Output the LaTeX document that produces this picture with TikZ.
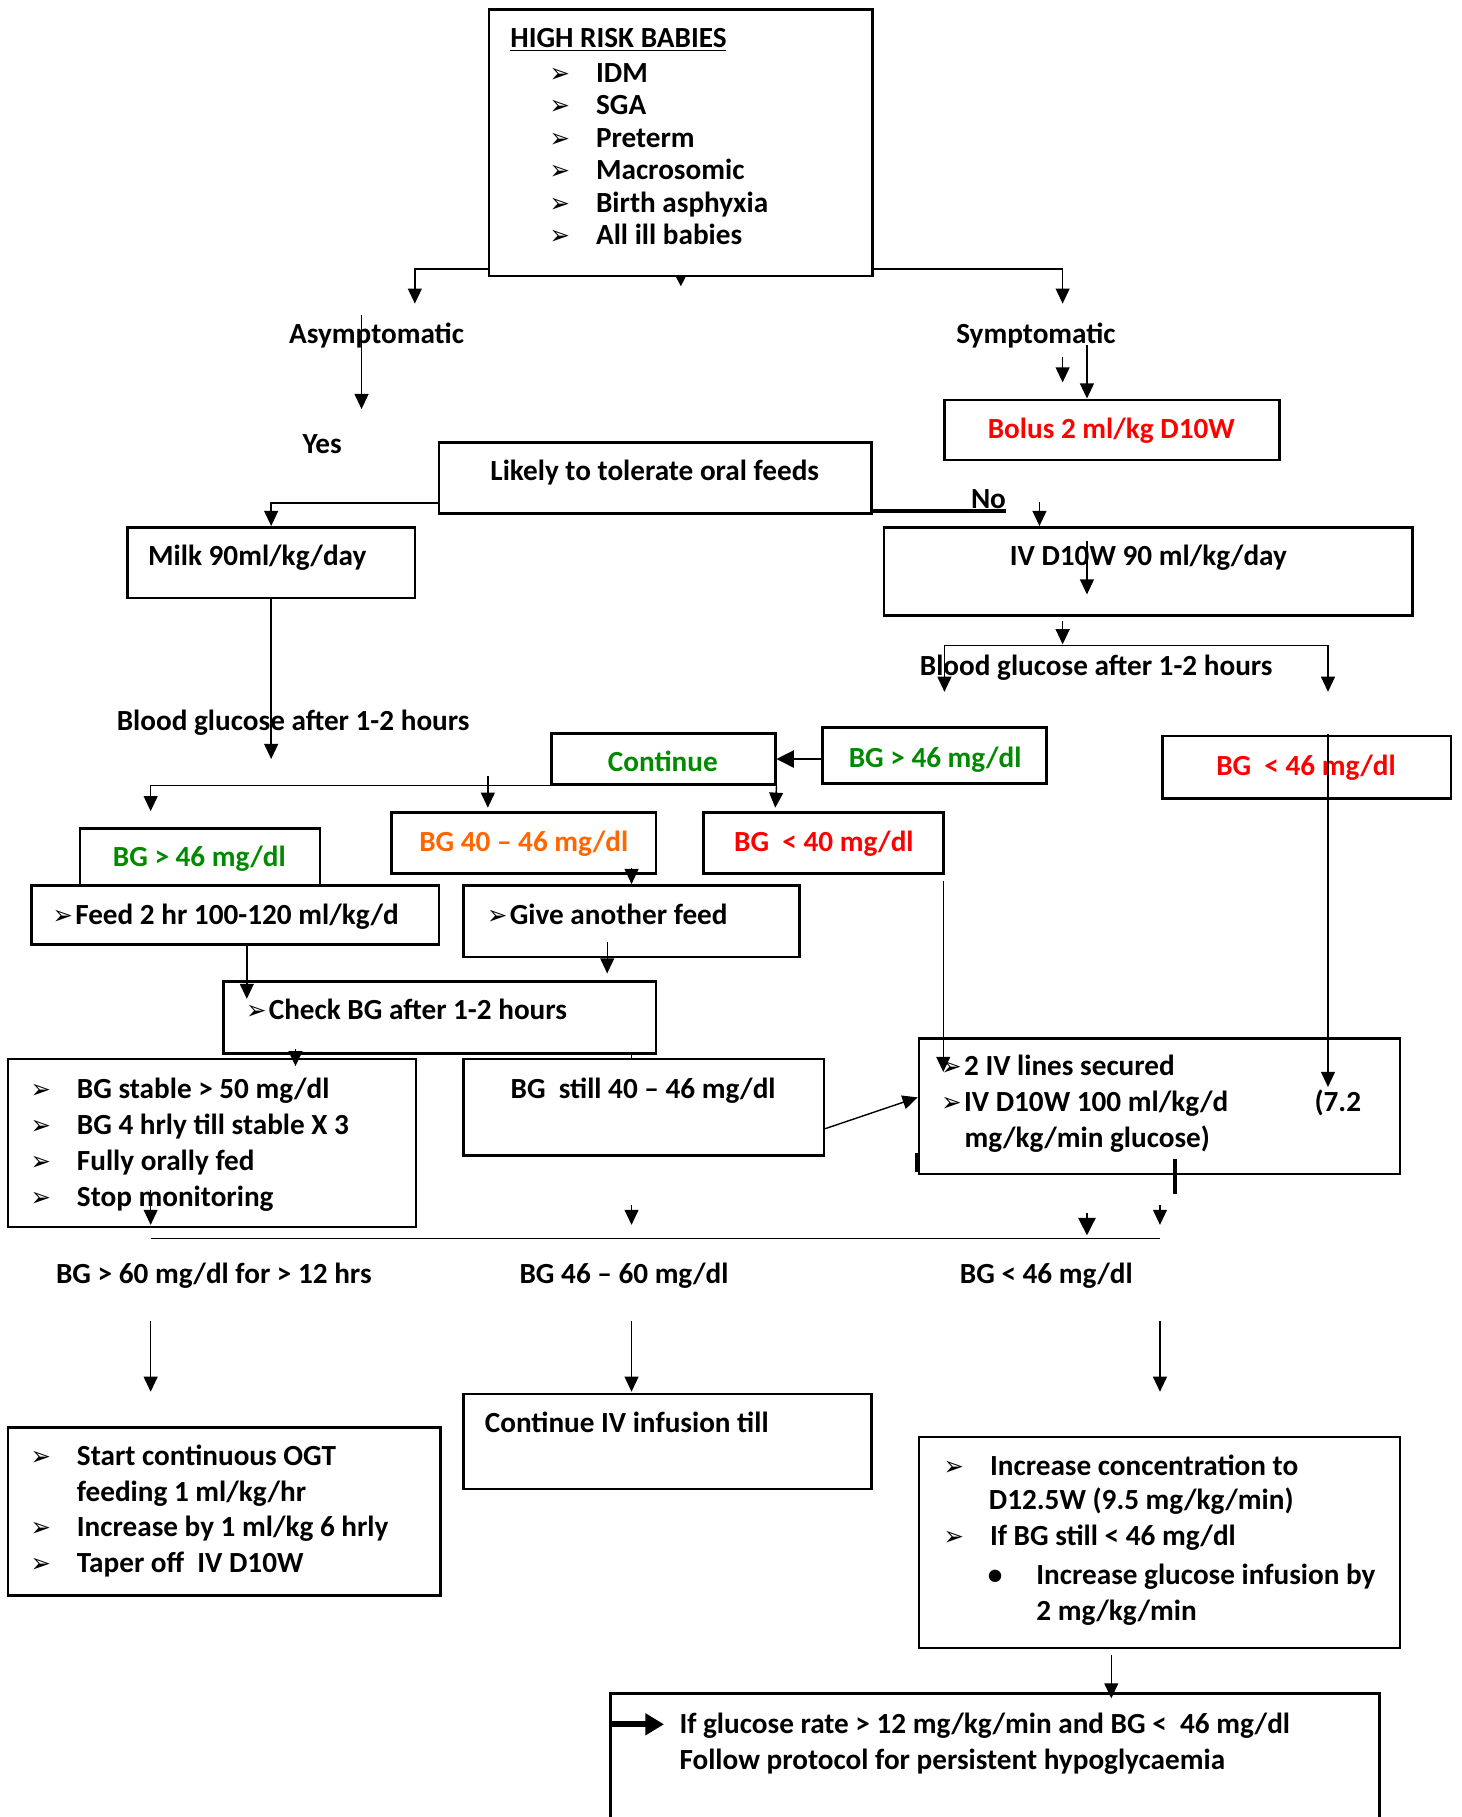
\documentclass[tikz,border=0pt]{standalone}
\usepackage{fontspec}
\usepackage{graphicx}
\setmainfont{Carlito}
\newfontfamily\symf{DejaVu Sans}
\usetikzlibrary{arrows.meta,fit,calc}
\definecolor{bgreen}{RGB}{0,138,0}
\definecolor{bred}{RGB}{255,0,0}
\definecolor{borange}{RGB}{255,102,0}
\newcommand\arw{\scalebox{1.05}[1.15]{\symf\fontsize{10}{10}\selectfont ➢}}
\newcommand\arwcol{\makebox[20pt][l]{\arw}}
\begin{document}
\begin{tikzpicture}[x=0.5pt,y=-0.5pt,
  font=\fontsize{12.6}{15}\selectfont\bfseries,
  box/.style={draw, line width=1.1pt, inner sep=0pt, fill=white},
  txt/.style={inner sep=0pt, anchor=base west},
  ctxt/.style={inner sep=0pt, anchor=base},
  conn/.style={line width=0.6pt},
  arr/.style={line width=0.6pt, -{Triangle[length=6.5pt,width=6pt]}},
  arrbig/.style={line width=0.6pt, -{Triangle[length=7.5pt,width=7.5pt]}},
  arrsmall/.style={line width=0.6pt, -{Triangle[length=4pt,width=4pt]}},
  both/.style={line width=0.6pt, {Triangle[length=6.5pt,width=6pt]}-{Triangle[length=6.5pt,width=6pt]}}
]
\useasboundingbox (0,0) rectangle (1261,1568);
\fill[white] (0,0) rectangle (1261,1568);

% ---------- boxes ----------
\node[box, fit={(422,8)(753,238)}] (top) {};
\node[box, fit={(815,345)(1104,397)}] (bolus) {};
\node[box, fit={(379,382)(752,443)}] (likely) {};
\node[box, fit={(110,455)(358,516)}] (milk) {};
\node[box, fit={(763,455)(1219,531)}] (iv) {};
\node[box, fit={(476,633)(669,677)}] (cont) {};
\node[box, fit={(710,628)(903,676)}] (bgr) {};
\node[box, fit={(1003,635)(1252,689)}] (bgrl) {};
\node[box, fit={(69,715)(276,766)}] (bgl) {};
\node[box, fit={(338,701)(566,754)}] (bgm) {};
\node[box, fit={(607,701)(814,754)}] (bgf) {};
\node[box, fit={(27,764)(379,815)}] (feed) {};
\node[box, fit={(400,764)(690,826)}] (give) {};
\node[box, fit={(193,847)(566,909)}] (check) {};
\node[box, fit={(7,914)(359,1059)}] (stable) {};
\node[box, fit={(400,914)(711,997)}] (still) {};
\node[box, fit={(793,896)(1208,1013)}] (ivl) {};
\node[box, fit={(7,1232)(380,1377)}] (ogt) {};
\node[box, fit={(400,1203)(752,1285)}] (civ) {};
\node[box, fit={(793,1240)(1208,1422)}] (inc) {};
\node[inner sep=0pt, fit={(527,1462)(1190,1600)}] (fin) {};
\fill[white] (fin.south west) rectangle (fin.north east);
\draw[line width=1.1pt] (fin.south west) -- (fin.north west) -- (fin.north east) -- (fin.south east);

% ---------- texts ----------
\node[txt] (title) at (440,41) {\underline{HIGH RISK BABIES}};
\foreach \t [count=\i] in {IDM,SGA,Preterm,Macrosomic,Birth asphyxia,All ill babies}
  \node[txt] (hr\i) at (474,{71+28*(\i-1)}) {\arwcol\t};
\node[ctxt] (tasym) at (325,296) {Asymptomatic};
\node[ctxt] (tyes) at (278,391) {Yes};
\node[ctxt] (tsym) at (894,296) {Symptomatic};
\node[ctxt, text=bred] (tbolus) at (959,378) {Bolus 2 ml/kg D10W};
\node[ctxt] (tlikely) at (565,415) {Likely to tolerate oral feeds};
\node[ctxt] (tno) at (853,439) {No};
\node[ctxt] (tmilk) at (222,488) {Milk 90ml/kg/day};
\node[ctxt] (tiv) at (991,488) {IV D10W 90 ml/kg/day};
\node[ctxt] (tbgr) at (946,583) {Blood glucose after 1-2 hours};
\node[ctxt] (tbgl) at (253,630) {Blood glucose after 1-2 hours};
\node[ctxt, text=bgreen] (tcont) at (572,666) {Continue};
\node[ctxt, text=bgreen] (tbgr46) at (807,662) {BG > 46 mg/dl};
\node[ctxt, text=bred] (tbgrl) at (1127,669) {BG\ \ < 46 mg/dl};
\node[ctxt, text=bgreen] (tbgl46) at (172,748) {BG > 46 mg/dl};
\node[ctxt, text=borange] (tbgm) at (452,735) {BG 40 – 46 mg/dl};
\node[ctxt, text=bred] (tbgf) at (711,735) {BG\ \ < 40 mg/dl};
\node[txt] (tfeed) at (45,798) {\arw\kern1pt Feed 2 hr 100-120 ml/kg/d};
\node[txt] (tgive) at (420,798) {\arw\kern1pt Give another feed};
\node[txt] (tcheck) at (212,880) {\arw\kern1pt Check BG after 1-2 hours};
\foreach \t [count=\i] in {BG stable > 50 mg/dl,BG 4 hrly till stable X 3,Fully orally fed,Stop monitoring}
  \node[txt] (st\i) at (26,{948+31*(\i-1)}) {\arwcol\t};
\node[ctxt] (tstill) at (555,948) {BG\ \ still 40 – 46 mg/dl};
\node[txt] (tivl1) at (812,928) {\arw\kern1pt 2 IV lines secured};
\node[txt] (tivl2) at (812,959) {\arw\kern1pt IV D10W 100 ml/kg/d};
\node[txt] (tivl3) at (1134,959) {(7.2};
\node[txt] (tivl4) at (832,990) {mg/kg/min glucose)};
\node[txt] (tb60) at (48,1108) {BG > 60 mg/dl for > 12 hrs};
\node[txt] (tb4660) at (448,1108) {BG 46 – 60 mg/dl};
\node[txt] (tb46) at (828,1108) {BG < 46 mg/dl};
\node[txt] (og1) at (26,1265) {\arwcol Start continuous OGT};
\node[txt] (og2) at (66,1296) {feeding 1 ml/kg/hr};
\node[txt] (og3) at (26,1326) {\arwcol Increase by 1 ml/kg 6 hrly};
\node[txt] (og4) at (26,1357) {\arwcol Taper off\ \ IV D10W};
\node[txt] (tciv) at (418,1236) {Continue IV infusion till};
\node[txt] (in1) at (814,1273) {\arwcol Increase concentration to};
\node[txt] (in2) at (853,1303) {D12.5W (9.5 mg/kg/min)};
\node[txt] (in3) at (814,1334) {\arwcol If BG still < 46 mg/dl};
\node[txt] (in4) at (852,1367) {\makebox[21pt][l]{•}Increase glucose infusion by};
\node[txt] (in5) at (894,1398) {2 mg/kg/min};
\node[txt] (fn1) at (586,1496) {If glucose rate > 12 mg/kg/min and BG <\ \ 46 mg/dl};
\node[txt] (fn2) at (586,1527) {Follow protocol for persistent hypoglycaemia};

% ---------- connectors ----------
\coordinate (a1) at (358,262);
\draw[arr] ([yshift=3.5pt]top.south west) -| (a1);
\coordinate (a2) at (917,262);
\draw[arr] ([yshift=3.5pt]top.south east) -| (a2);
\coordinate (a3) at (587.5,247);
\draw[arrsmall] (top.south) -- (a3);
\coordinate (a4s) at (312,272); \coordinate (a4e) at (312,353);
\draw[arr] (a4s) -- (a4e);
\coordinate (a5s) at (917,308); \coordinate (a5e) at (917,330);
\draw[arr] (a5s) -- (a5e);
\coordinate (a6s) at (938,298);
\draw[arr] (a6s) -- (a6s |- bolus.north);
\draw[arr] ([yshift=5pt]likely.south west) -| (milk.north);
\coordinate (a8) at (868,441);
\draw[line width=1.6pt] (likely.east |- a8) -- (a8);
\coordinate (a9) at (897,433);
\draw[arr] (a9) -- (a9 |- iv.north);
\coordinate (a10) at (234,655);
\draw[arr] (milk.south) -- (a10);
\coordinate (a11s) at (938,467); \coordinate (a11e) at (938,513);
\draw[arr] (a11s) -- (a11e);
\coordinate (a12s) at (917,536); \coordinate (a12e) at (917,556);
\draw[arr] (a12s) -- (a12e);
\coordinate (a13l) at (815,597); \coordinate (a13m) at (1146,557); \coordinate (a13r) at (1146,597);
\draw[both] (a13l) |- (a13m) -- (a13r);
\draw[arrbig] (bgr.west |- cont.east) -- (cont.east);
\coordinate (a15s) at (1146,633); \coordinate (a15e) at (1146,938);
\draw[arr] (a15s) -- (a15e);
\coordinate (a16) at (130,700);
\draw[arr] (cont.south west) -| (a16);
\coordinate (a17s) at (421,670); \coordinate (a17e) at (421,697);
\draw[arr] (a17s) -- (a17e);
\coordinate (a18) at (669,697);
\draw[arr] (cont.south east) -- (a18);
\coordinate (a19) at (545,749);
\draw[arr] (a19) -- (a19 |- give.north);
\coordinate (a20s) at (524,813); \coordinate (a20e) at (524,840);
\draw[arr] (a20s) -- (a20e);
\coordinate (a21) at (213,862);
\draw[arr] (feed.south -| a21) -- (a21);
\coordinate (a22s) at (255,905); \coordinate (a22e) at (255,920);
\draw[arr] (a22s) -- (a22e);
\coordinate (a23) at (545,911);
\draw[conn] (a23 |- check.south) -- (a23 |- still.north);
\coordinate (a24s) at (814,760); \coordinate (a24e) at (814,925);
\draw[arr] (a24s) -- (a24e);
\coordinate (a25s) at (711,974); \coordinate (a25e) at (793,947);
\draw[arr] (still.east |- a25s) -- (ivl.west |- a25e);
\coordinate (a26s) at (1014,1000); \coordinate (a26e) at (1014,1030);
\draw[line width=2pt] (a26s) -- (a26e);
\coordinate (a27s) at (1001,1040); \coordinate (a27e) at (1001,1057);
\draw[arr] (a27s) -- (a27e);
\coordinate (a28s) at (938,1047); \coordinate (a28e) at (938,1066);
\draw[arrbig] (a28s) -- (a28e);
\coordinate (a29l) at (130,1069); \coordinate (a29r) at (1001,1069);
\draw[conn] (a29l) -- (a29r);
\coordinate (a30s) at (545,1040); \coordinate (a30e) at (545,1057);
\draw[arr] (a30s) -- (a30e);
\coordinate (a31s) at (130,1027); \coordinate (a31e) at (130,1057);
\draw[arr] (a31s) -- (a31e);
\foreach \xx/\nm in {130/b1,545/b2,1001/b3}{
  \coordinate (\nm s) at (\xx,1140); \coordinate (\nm e) at (\xx,1201);
  \draw[arr] (\nm s) -- (\nm e);
}
\coordinate (a35s) at (959,1428);
\draw[arr] (a35s) -- ([yshift=-2pt]a35s |- fin.north);
\coordinate (a36s) at (527,1488); \coordinate (a36e) at (573,1488);
\draw[line width=2.5pt, -{Triangle[length=8pt,width=9pt]}] (a36s) -- (a36e);
\coordinate (a37s) at (791,995); \coordinate (a37e) at (791,1011);
\draw[line width=1.6pt] (a37s) -- (a37e);
\end{tikzpicture}
\end{document}
